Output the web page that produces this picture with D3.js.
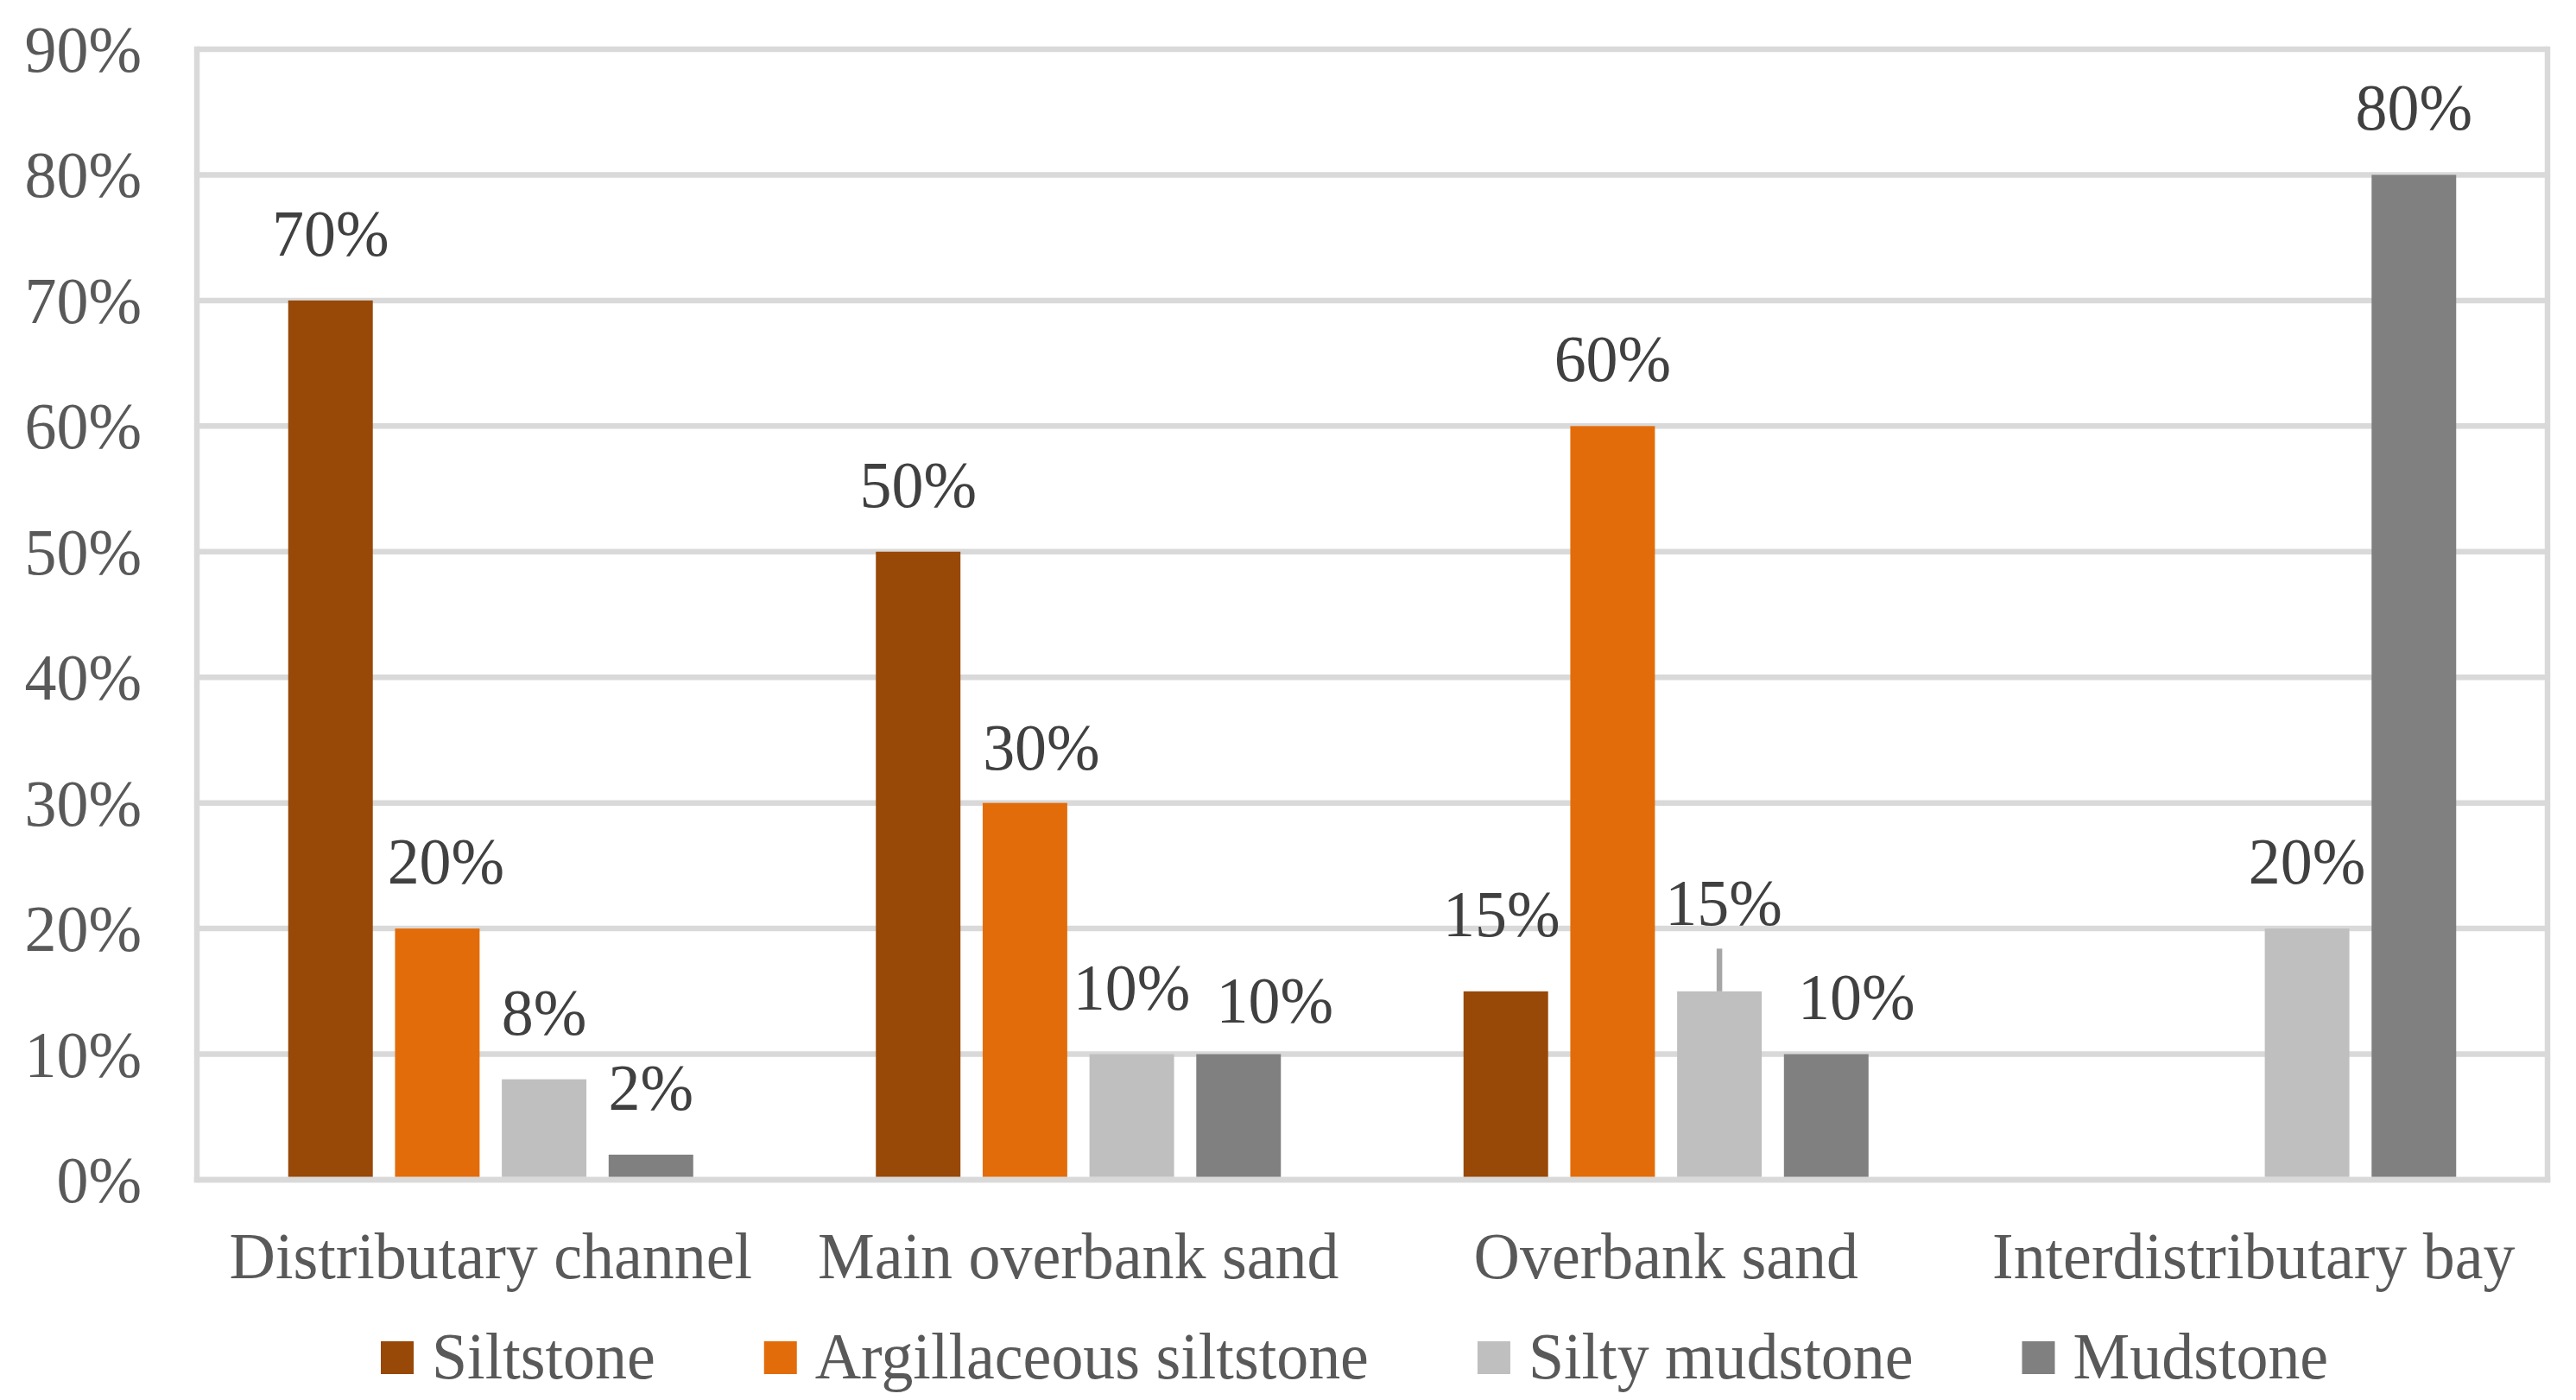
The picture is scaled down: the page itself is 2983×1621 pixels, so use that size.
<!DOCTYPE html>
<html>
<head>
<meta charset="utf-8">
<script src="https://cdn.jsdelivr.net/npm/d3@7"></script>
<style>
  html, body { margin: 0; padding: 0; background: #ffffff; }
  svg { display: block; }
  text { font-family: "Liberation Serif", "Times New Roman", serif; }
</style>
</head>
<body>
<svg id="chart" width="2983" height="1621"></svg>
<script>
// ---------------- data ----------------
const categories = ["Distributary channel", "Main overbank sand", "Overbank sand", "Interdistributary bay"];
const seriesNames = ["Siltstone", "Argillaceous siltstone", "Silty mudstone", "Mudstone"];
const siltstone     = [0.70, 0.50, 0.15, null];
const argillaceous  = [0.20, 0.30, 0.60, null];
const siltyMudstone = [0.08, 0.10, 0.15, 0.20];
const mudstone      = [0.02, 0.10, 0.10, 0.80];
const yTickValues   = [0, 0.1, 0.2, 0.3, 0.4, 0.5, 0.6, 0.7, 0.8, 0.9];
// upper error bar (only one drawn in the original)
const errorCategory = ["Overbank sand"];
const errorSeries   = ["Silty mudstone"];
const errorPlus     = [0.034];

// ---------------- styles / layout ----------------
const seriesColors = ["#984807", "#E36C0A", "#BFBFBF", "#808080"];
const W = 2983, H = 1621;
const plot = { left: 228, right: 2950, top: 57, bottom: 1366 };
const FONT = 77, SX = 0.96;
const gridColor = "#D9D9D9", gridW = 6.5;
// manual label nudges (dx, dy in px) as in the original figure
const labelNudge = {
  "Distributary channel|Argillaceous siltstone": [10, 0],
  "Main overbank sand|Argillaceous siltstone": [19, 13],
  "Main overbank sand|Mudstone": [42, 15],
  "Overbank sand|Siltstone": [-5, -12],
  "Overbank sand|Silty mudstone": [5, -25],
  "Overbank sand|Mudstone": [35, 11]
};

const seriesValues = [siltstone, argillaceous, siltyMudstone, mudstone];
const table = categories.map((c, i) => ({
  category: c,
  values: seriesNames.map((s, j) => ({ category: c, series: s, value: seriesValues[j][i], color: seriesColors[j] }))
}));

const svg = d3.select("#chart");
svg.append("rect").attr("width", W).attr("height", H).attr("fill", "#fff");

const x0 = d3.scaleBand().domain(categories).range([plot.left, plot.right]).paddingInner(0).paddingOuter(0);
const x1 = d3.scaleBand().domain(seriesNames).range([0, x0.bandwidth()]).paddingInner(0.208).paddingOuter(0.855);
const y = d3.scaleLinear().domain([0, 0.9]).range([plot.bottom, plot.top]);
const fmt = d3.format(".0%");

function addText(parent, x, yPos, str, anchor, fill) {
  const g = parent.append("g").attr("transform", `translate(${x},${yPos}) scale(${SX},1)`);
  return g.append("text")
    .attr("text-anchor", anchor)
    .attr("font-size", FONT)
    .attr("fill", fill)
    .text(str);
}

// gridlines
svg.append("g").selectAll("line").data(yTickValues).join("line")
  .attr("x1", plot.left).attr("x2", plot.right)
  .attr("y1", d => y(d)).attr("y2", d => y(d))
  .attr("stroke", gridColor).attr("stroke-width", gridW);

// plot frame (left, right)
svg.append("line").attr("x1", plot.left).attr("x2", plot.left).attr("y1", plot.top - gridW / 2).attr("y2", plot.bottom + gridW / 2)
  .attr("stroke", gridColor).attr("stroke-width", gridW);
svg.append("line").attr("x1", plot.right).attr("x2", plot.right).attr("y1", plot.top - gridW / 2).attr("y2", plot.bottom + gridW / 2)
  .attr("stroke", gridColor).attr("stroke-width", gridW);

// y tick labels
const yLab = svg.append("g");
yTickValues.forEach(v => addText(yLab, plot.left - 64, y(v) + 26, fmt(v), "end", "#595959"));

// bars
const groups = svg.append("g").selectAll("g").data(table).join("g")
  .attr("transform", d => `translate(${x0(d.category)},0)`);
groups.selectAll("rect").data(d => d.values.filter(v => v.value != null)).join("rect")
  .attr("x", d => x1(d.series))
  .attr("width", x1.bandwidth())
  .attr("y", d => y(d.value))
  .attr("height", d => y(0) - y(d.value) - gridW / 2)
  .attr("fill", d => d.color);

// bottom axis line
svg.append("line").attr("x1", plot.left - gridW / 2).attr("x2", plot.right + gridW / 2)
  .attr("y1", plot.bottom).attr("y2", plot.bottom)
  .attr("stroke", gridColor).attr("stroke-width", gridW);

// error bar
errorCategory.forEach((c, i) => {
  const s = errorSeries[i];
  const row = table.find(t => t.category === c).values.find(v => v.series === s);
  const cx = x0(c) + x1(s) + x1.bandwidth() / 2;
  svg.append("line").attr("x1", cx).attr("x2", cx)
    .attr("y1", y(row.value)).attr("y2", y(row.value + errorPlus[i]))
    .attr("stroke", "#A6A6A6").attr("stroke-width", 6.5);
});

// data labels
const lab = svg.append("g");
table.forEach(t => t.values.forEach(v => {
  if (v.value == null) return;
  const n = labelNudge[v.category + "|" + v.series] || [0, 0];
  const cx = x0(v.category) + x1(v.series) + x1.bandwidth() / 2 + n[0];
  addText(lab, cx, y(v.value) - 52 + n[1], fmt(v.value), "middle", "#404040");
}));

// category labels
const cat = svg.append("g");
categories.forEach(c => addText(cat, x0(c) + x0.bandwidth() / 2, 1480, c, "middle", "#595959"));

// legend
const leg = svg.append("g");
let lx = 441;
seriesNames.forEach((s, i) => {
  leg.append("rect").attr("x", lx).attr("y", 1553).attr("width", 38).attr("height", 38).attr("fill", seriesColors[i]);
  const t = addText(leg, lx + 59, 1596, s, "start", "#595959");
  const w = t.node().getComputedTextLength() * SX;
  lx = lx + 59 + w + 126;
});
</script>
</body>
</html>
